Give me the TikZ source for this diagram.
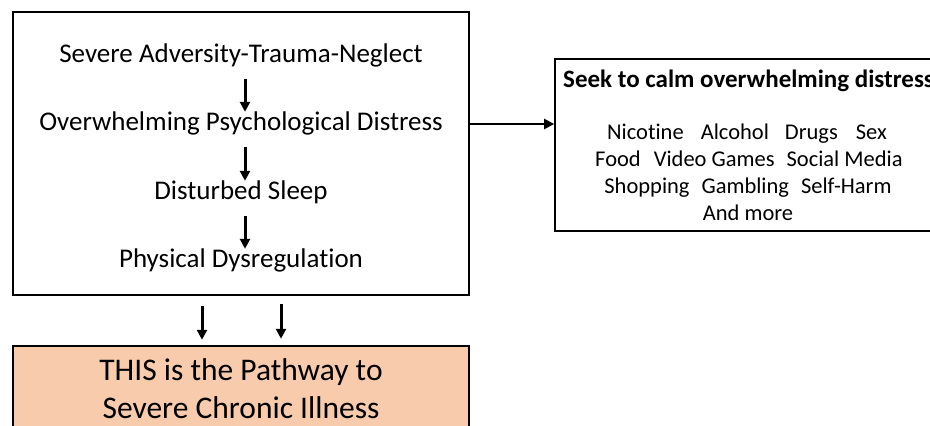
\documentclass[tikz,border=0pt]{standalone}
\usepackage{fontspec}
\setmainfont{Carlito}[Ligatures=NoCommon]
\usetikzlibrary{arrows.meta}
\definecolor{peach}{HTML}{F8CBAD}
\begin{document}
\begin{tikzpicture}[x=1pt,y=-1pt,
  box/.style={draw=black, line width=1.6pt, inner sep=0pt},
  ltext/.style={font=\fontsize{27}{32}\selectfont, inner sep=0pt, text height=17.4pt, text depth=0pt, minimum height=20pt},
  ptext/.style={font=\fontsize{31.5}{38}\selectfont, inner sep=0pt, text height=20.3pt, text depth=0pt},
  rtext/.style={font=\fontsize{22.5}{27}\selectfont, inner sep=0pt, text height=14.5pt, text depth=0pt},
  arr/.style={-{Triangle[length=10pt,width=10pt]}, line width=3pt},
]
\useasboundingbox (0,0) rectangle (930,426);
\clip (0,0) rectangle (930,426);
% left box
\node[box, minimum width=456pt, minimum height=283pt] (lbox) at (241,153.5) {};
\node[ltext] (l1) at (241,54) {Severe Adversity-Trauma-Neglect};
\node[ltext] (l2) at (241,122) {Overwhelming Psychological Distress};
\node[ltext] (l3) at (241,191) {Disturbed Sleep};
\node[ltext] (l4) at (241,259) {Physical Dysregulation};
\draw[arr, shorten <=15pt] ([xshift=4pt]l1.south) -- ([xshift=4pt]l2.north);
\draw[arr, shorten <=15pt] ([xshift=4pt]l2.south) -- ([xshift=4pt]l3.north);
\draw[arr, shorten <=15pt] ([xshift=4pt]l3.south) -- ([xshift=4pt]l4.north);
% right box
\node[box, minimum width=405pt, minimum height=172pt] (rbox) at (757.5,145) {};
\node[rtext, font=\fontsize{25}{30}\selectfont\bfseries, text height=16pt, anchor=west] (rt) at (563,79) {Seek to calm overwhelming distress};
\node[rtext] (r1) at (747,132) {Nicotine\hspace{17pt}Alcohol\hspace{16pt}Drugs\hspace{18pt}Sex};
\node[rtext] (r2) at (749,159) {Food\hspace{13pt}Video Games\hspace{12pt}Social Media};
\node[rtext] (r3) at (748,186) {Shopping\hspace{12pt}Gambling\hspace{12pt}Self-Harm};
\node[rtext] (r4) at (748,213) {And more};
\draw[arr, line width=2.2pt] ([yshift=-2pt]lbox.east |- l2.center) -- ([yshift=-2pt]rbox.west |- l2.center);
% pathway box
\node[box, line width=2.5pt, fill=peach, minimum width=456pt, minimum height=114pt] (pbox) at (241,403) {};
\node[ptext] (p1) at (241,370) {THIS is the Pathway to};
\node[ptext] (p2) at (241,408) {Severe Chronic Illness};
\draw[arr, shorten <=10pt, shorten >=5pt] ([xshift=-39pt]lbox.south) -- ([xshift=-39pt]pbox.north);
\draw[arr, shorten <=8pt, shorten >=6pt] ([xshift=40pt]lbox.south) -- ([xshift=40pt]pbox.north);
\end{tikzpicture}
\end{document}
